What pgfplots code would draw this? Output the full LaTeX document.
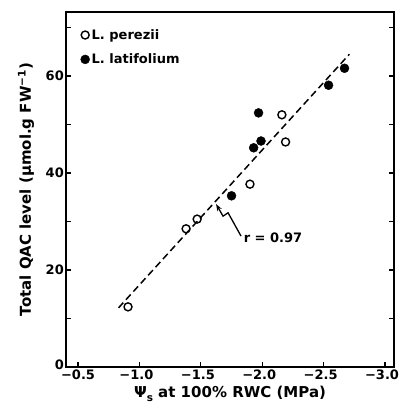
\documentclass[border=0pt]{standalone}
\usepackage{pgfplots}
\pgfplotsset{compat=1.18}
\usepackage{fontspec}
\setmainfont{DejaVu Sans}
\usetikzlibrary{arrows.meta}
\begin{document}
\begin{tikzpicture}
\begin{axis}[
  name=ax,
  scale only axis,
  width=328pt, height=355pt,
  x dir=reverse,
  xmin=-3.073, xmax=-0.402,
  ymin=0, ymax=73.2,
  xtick={-0.5,-1.0,-1.5,-2.0,-2.5,-3.0},
  xticklabels={\hspace{6pt}−0.5,−1.0,−1.5,−2.0,−2.5,−3.0},
  ytick={0,10,20,30,40,50,60,70},
  yticklabels={\raisebox{5pt}{0},,20,,40,,60,},
  xtick pos=left,
  ytick pos=both,
  tick align=inside,
  major tick length=5pt,
  axis line style={line width=1.3pt},
  every tick/.style={line width=1.1pt, black},
  ticklabel style={font=\fontsize{13}{15}\selectfont\bfseries, inner sep=1pt},
  xticklabel style={yshift=-2pt, xshift=-3pt},
  yticklabel style={xshift=-1pt},
  xlabel={\fontsize{15}{17}\selectfont\bfseries Ψ\raisebox{-0.5ex}{\fontsize{10.5}{12}\selectfont s} at 100\% RWC (MPa)},
  ylabel={\fontsize{15}{17}\selectfont\bfseries Total QAC level (μmol.g FW\textsuperscript{−1})},
  xlabel style={yshift=-1.5pt},
  ylabel style={yshift=7pt},
  legend style={at={(0.035,0.963)}, anchor=north west, draw=none, fill=none,
    font=\fontsize{13}{15}\selectfont\bfseries, row sep=9pt,
    /tikz/every even column/.append style={column sep=0pt}},
  legend cell align=left,
]
\addplot[only marks, mark=o, mark size=4pt, line width=1.4pt, black] coordinates {
  (-0.907,12.4) (-1.38,28.5) (-1.47,30.5) (-1.90,37.7) (-2.16,52.0) (-2.19,46.4)
};
\addlegendentry{L. perezii}
\addplot[only marks, mark=*, mark size=4.5pt, black] coordinates {
  (-1.75,35.3) (-1.93,45.2) (-1.99,46.6) (-1.97,52.4) (-2.54,58.1) (-2.67,61.6)
};
\addlegendentry{L. latifolium}
\addplot[black, line width=1.5pt, dash pattern=on 7pt off 4pt, forget plot] coordinates {
  (-0.83,12.2) (-2.71,64.5)
};
\draw[line width=1.3pt, -{Stealth[length=7pt,width=5pt]}]
  (axis cs:-1.827,27.0) -- (axis cs:-1.722,31.8) -- (axis cs:-1.681,31.1) -- (axis cs:-1.624,33.6);
\node[anchor=west, font=\fontsize{13}{15}\selectfont\bfseries, inner sep=1pt] at (axis cs:-1.84,26.6) {r = 0.97};
\end{axis}
\pgfresetboundingbox
\path ([xshift=-66pt,yshift=-42pt]ax.south west) rectangle ([xshift=4pt,yshift=12pt]ax.north east);
\end{tikzpicture}
\end{document}
